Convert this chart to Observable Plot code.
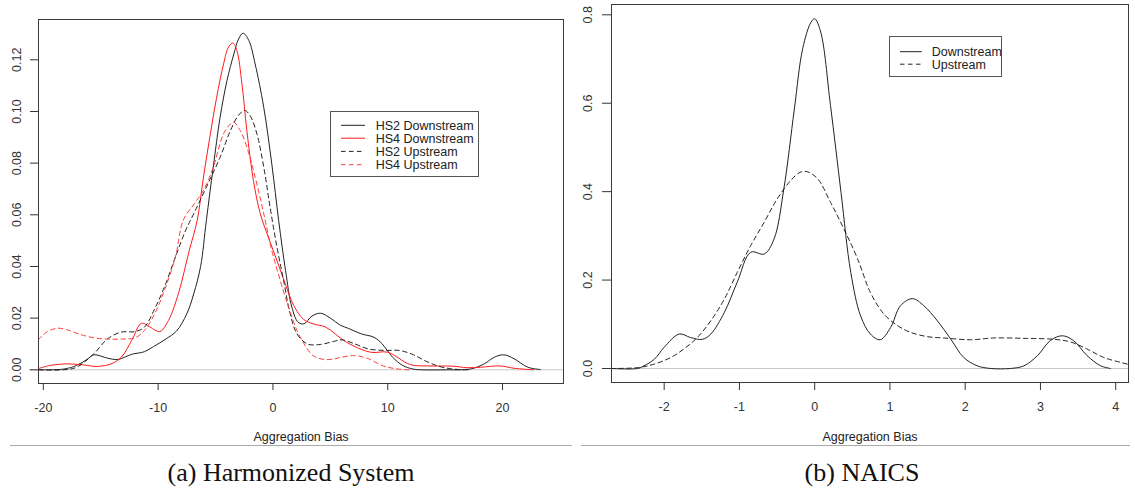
<!DOCTYPE html>
<html>
<head>
<meta charset="utf-8">
<script src="https://cdn.jsdelivr.net/npm/d3@7"></script>
<script src="https://cdn.jsdelivr.net/npm/@observablehq/plot@0.6"></script>
<style>
  html, body { margin: 0; padding: 0; background: #fff; }
  #wrap { position: relative; width: 1135px; height: 492px; overflow: hidden; background: #fff; }
  .panel { position: absolute; top: 0; }
  .legend { position: absolute; border: 1px solid #555; box-sizing: border-box; background: #fff; }
  .legend svg { position: absolute; left: 0; top: 0; overflow: visible; }
  .cap { position: absolute; top: 460px; font-family: "Liberation Serif", serif; font-size: 26px; line-height: 26px; color: #111; text-align: center; white-space: nowrap; }
  .edge { position: absolute; height: 0; border-top: 1px solid #aaa; }
</style>
</head>
<body>
<div id="wrap"></div>
<script>
// ---------- Panel (a): Harmonized System ----------
const hsTicksX = [-20, -10, 0, 10, 20];
const hsTicksY = [0, 0.02, 0.04, 0.06, 0.08, 0.10, 0.12];

const hs2DownX = [-20.4, -18.2, -17.1, -16.2, -15.6, -14.4, -13.5, -12.3, -11.2, -10.4, -9.3, -8.4, -7.5, -6.9, -6.3, -5.8, -5.2, -4.6, -4.0, -3.4, -3.0, -2.6, -2.1, -1.55, -0.8, -0.1, 0.5, 1.1, 1.65, 2.2, 2.7, 3.4, 4.15, 5.0, 5.9, 6.6, 7.7, 8.8, 9.5, 10.4, 11.3, 12.2, 13.0, 15.0, 17.2, 18.4, 19.3, 20.1, 21.0, 22.2, 23.3];
const hs2DownY = [0, 0.0003, 0.0017, 0.0040, 0.0058, 0.0045, 0.0040, 0.0060, 0.0070, 0.0090, 0.0120, 0.0150, 0.0217, 0.0294, 0.0400, 0.0578, 0.0784, 0.0978, 0.1120, 0.1223, 0.1280, 0.1303, 0.1275, 0.1184, 0.1016, 0.0797, 0.0578, 0.0384, 0.0242, 0.0184, 0.0178, 0.0208, 0.0219, 0.0200, 0.0172, 0.0160, 0.0139, 0.0126, 0.0101, 0.0050, 0.0017, 0.0003, 0, 0, 0.0003, 0.0023, 0.0049, 0.0058, 0.0043, 0.0010, 0.0001];

const hs4DownX = [-20.4, -19.4, -18.0, -16.5, -15.3, -14.1, -13.2, -12.3, -11.45, -10.7, -9.85, -9.1, -8.2, -7.3, -6.6, -6.05, -5.5, -4.9, -4.3, -3.87, -3.49, -3.14, -2.7, -2.27, -1.7, -1.1, -0.4, 0.35, 1.07, 1.8, 2.67, 3.5, 4.6, 6.4, 8.5, 10.0, 11.97, 13.5, 15.7, 16.9, 18.1, 19.8, 21.0, 22.7];
const hs4DownY = [0.0005, 0.0017, 0.0023, 0.0019, 0.0013, 0.0023, 0.0049, 0.0114, 0.0180, 0.0165, 0.0148, 0.0191, 0.0300, 0.0460, 0.0578, 0.0746, 0.0900, 0.1055, 0.1184, 0.1249, 0.1265, 0.1236, 0.1107, 0.0926, 0.0733, 0.0604, 0.0513, 0.0423, 0.0333, 0.0250, 0.0195, 0.0178, 0.0165, 0.0107, 0.0068, 0.0068, 0.0020, 0.0015, 0.0014, 0.0008, 0.0010, 0.0015, 0.0006, 0];

const hs2UpX = [-20.4, -18.2, -17.1, -15.6, -14.4, -13.2, -12.0, -11.2, -10.3, -9.4, -8.5, -7.6, -6.9, -5.8, -4.6, -3.7, -3.0, -2.47, -2.0, -1.4, -0.8, -0.25, 0.35, 0.93, 1.5, 2.1, 3.0, 4.1, 5.3, 6.0, 7.1, 8.3, 9.8, 11.0, 12.2, 13.3, 14.5, 15.7, 17.0];
const hs2UpY = [0, 0, 0.0010, 0.0062, 0.0120, 0.0146, 0.0148, 0.0165, 0.0236, 0.0326, 0.0436, 0.0540, 0.0604, 0.0707, 0.0823, 0.0926, 0.0985, 0.1004, 0.0985, 0.0914, 0.0785, 0.0630, 0.0475, 0.0346, 0.0217, 0.0139, 0.0100, 0.0098, 0.0110, 0.0116, 0.0101, 0.0081, 0.0075, 0.0075, 0.0059, 0.0034, 0.0013, 0.0003, 0];

const hs4UpX = [-20.45, -19.7, -18.8, -17.95, -16.8, -15.6, -14.4, -13.2, -12.0, -11.2, -10.3, -9.4, -8.5, -7.8, -6.9, -6.05, -5.2, -4.3, -3.7, -3.43, -2.85, -2.27, -1.55, -0.8, -0.1, 0.64, 1.36, 2.1, 2.8, 3.5, 4.45, 5.3, 6.0, 7.1, 8.3, 9.5, 10.7, 11.9];
const hs4UpY = [0.0116, 0.0146, 0.0161, 0.0155, 0.0137, 0.0124, 0.0119, 0.0119, 0.0124, 0.0152, 0.0217, 0.0314, 0.0436, 0.0580, 0.0640, 0.0694, 0.0784, 0.0914, 0.0952, 0.0959, 0.0926, 0.0862, 0.0746, 0.0604, 0.0462, 0.0346, 0.0242, 0.0152, 0.0094, 0.0055, 0.0040, 0.0042, 0.0049, 0.0055, 0.0043, 0.0017, 0.0004, 0];

const hsNames = ["HS2 Downstream", "HS4 Downstream", "HS2 Upstream", "HS4 Upstream"];
const hsColors = ["#222222", "#ff1a1a", "#222222", "#ff3b3b"];
const hsDashed = [false, false, true, true];

// ---------- Panel (b): NAICS ----------
const naicsTicksX = [-2, -1, 0, 1, 2, 3, 4];
const naicsTicksY = [0, 0.2, 0.4, 0.6, 0.8];

const naicsDownX = [-2.7, -2.35, -2.27, -2.13, -2.0, -1.8, -1.65, -1.49, -1.38, -1.2, -1.03, -0.85, -0.67, -0.54, -0.41, -0.27, -0.16, -0.05, 0, 0.08, 0.21, 0.35, 0.48, 0.61, 0.74, 0.87, 1.01, 1.14, 1.3, 1.45, 1.63, 1.81, 1.98, 2.16, 2.34, 2.6, 2.78, 2.96, 3.13, 3.29, 3.44, 3.62, 3.8, 3.93];
const naicsDownY = [0, 0, 0.006, 0.021, 0.048, 0.078, 0.070, 0.066, 0.078, 0.127, 0.195, 0.263, 0.259, 0.293, 0.406, 0.587, 0.723, 0.783, 0.791, 0.761, 0.595, 0.398, 0.217, 0.119, 0.078, 0.065, 0.093, 0.142, 0.158, 0.142, 0.108, 0.066, 0.025, 0.006, 0, 0, 0.006, 0.029, 0.063, 0.074, 0.063, 0.029, 0.006, 0];

const naicsUpX = [-2.71, -2.35, -2.13, -1.91, -1.74, -1.56, -1.38, -1.2, -1.03, -0.85, -0.67, -0.5, -0.32, -0.19, -0.1, 0.04, 0.21, 0.39, 0.57, 0.74, 0.92, 1.1, 1.27, 1.5, 1.72, 2.07, 2.38, 2.82, 3.18, 3.4, 3.62, 3.84, 4.06, 4.25];
const naicsUpY = [0, 0.002, 0.010, 0.025, 0.044, 0.070, 0.108, 0.157, 0.217, 0.278, 0.331, 0.383, 0.425, 0.444, 0.445, 0.429, 0.376, 0.315, 0.248, 0.172, 0.123, 0.097, 0.082, 0.072, 0.069, 0.065, 0.069, 0.068, 0.066, 0.060, 0.044, 0.025, 0.014, 0.006];

const naicsNames = ["Downstream", "Upstream"];
const naicsColors = ["#222222", "#222222"];
const naicsDashed = [false, true];

const axisTitle = "Aggregation Bias";
const captions = ["(a) Harmonized System", "(b) NAICS"];

// ---------- helpers ----------
function toRows(xs, ys) { return xs.map((x, i) => ({x, y: ys[i]})); }

function panel(cfg) {
  const marks = [
    Plot.ruleY([0], {stroke: "#c8c8c8", strokeWidth: 1, insetLeft: -9}),
  ];
  cfg.series.forEach((s, i) => {
    marks.push(Plot.line(toRows(s[0], s[1]), {
      x: "x", y: "y", curve: "catmull-rom", clip: true,
      stroke: cfg.colors[i], strokeWidth: 1,
      strokeDasharray: cfg.dashed[i] ? "4.5,3.5" : null
    }));
  });
  marks.push(
    Plot.frame({stroke: "#3a3a3a", strokeWidth: 1}),
    Plot.axisX(cfg.xTicks, {tickSize: cfg.xTickSize, tickPadding: cfg.xTickPad, color: "#333", fontSize: 12.5, label: null, tickFormat: d => String(d)}),
    Plot.axisY(cfg.yTicks, {tickSize: cfg.yTickSize, color: "#333", tickFormat: () => "", label: null}),
    Plot.text(cfg.yTicks, {y: d => d, text: cfg.yFmt, frameAnchor: "left", textAnchor: "middle", lineAnchor: "middle", dx: cfg.yLabelDx, rotate: -90, fontSize: 12.5, fill: "#333"}),
    Plot.text([axisTitle], {text: d => d, frameAnchor: "bottom", textAnchor: "middle", dy: cfg.titleDy, fontSize: 12.5, fill: "#222"})
  );
  return Plot.plot({
    width: cfg.width, height: cfg.height,
    marginLeft: cfg.ml, marginRight: cfg.mr, marginTop: cfg.mt, marginBottom: cfg.mb,
    x: {domain: cfg.xDomain, label: null},
    y: {domain: cfg.yDomain, label: null},
    style: {fontFamily: "'Liberation Sans', Arial, sans-serif", fontSize: "12.5px", background: "transparent", overflow: "visible"},
    marks
  });
}

function legend(left, top, w, h, names, colors, dashed, rowY, sampleX0, sampleX1, textX) {
  const div = document.createElement("div");
  div.className = "legend";
  Object.assign(div.style, {left: left + "px", top: top + "px", width: w + "px", height: h + "px"});
  const ns = "http://www.w3.org/2000/svg";
  const svg = document.createElementNS(ns, "svg");
  svg.setAttribute("width", w); svg.setAttribute("height", h);
  names.forEach((n, i) => {
    const y = rowY[i] - top - 1;
    const ln = document.createElementNS(ns, "line");
    ln.setAttribute("x1", sampleX0 - left - 1); ln.setAttribute("x2", sampleX1 - left - 1);
    ln.setAttribute("y1", y); ln.setAttribute("y2", y);
    ln.setAttribute("stroke", colors[i]); ln.setAttribute("stroke-width", 1);
    if (dashed[i]) ln.setAttribute("stroke-dasharray", "4.5,3.5");
    svg.appendChild(ln);
    const t = document.createElementNS(ns, "text");
    t.setAttribute("x", textX - left - 1); t.setAttribute("y", y);
    t.setAttribute("dy", "0.35em");
    t.setAttribute("font-family", "'Liberation Sans', Arial, sans-serif");
    t.setAttribute("font-size", "12.5px");
    t.setAttribute("fill", "#222");
    t.textContent = n;
    svg.appendChild(t);
  });
  div.appendChild(svg);
  return div;
}

const wrap = document.getElementById("wrap");

const left = panel({
  series: [[hs2DownX, hs2DownY], [hs4DownX, hs4DownY], [hs2UpX, hs2UpY], [hs4UpX, hs4UpY]],
  colors: hsColors, dashed: hsDashed,
  width: 575, height: 460, ml: 38, mr: 12, mt: 19, mb: 77,
  xDomain: [-20.42, 25.31], yDomain: [-0.0053, 0.1356],
  xTicks: hsTicksX, yTicks: hsTicksY, yFmt: d3.format(".2f"),
  xTickSize: 7, xTickPad: 13, yTickSize: 8, yLabelDx: -21.5, titleDy: 57
});
left.classList.add("panel"); left.style.left = "0px";
wrap.appendChild(left);

const right = panel({
  series: [[naicsDownX, naicsDownY], [naicsUpX, naicsUpY]],
  colors: naicsColors, dashed: naicsDashed,
  width: 560, height: 460, ml: 36, mr: 7, mt: 4, mb: 78,
  xDomain: [-2.70, 4.17], yDomain: [-0.0317, 0.8233],
  xTicks: naicsTicksX, yTicks: naicsTicksY, yFmt: d3.format(".1f"),
  xTickSize: 8, xTickPad: 12, yTickSize: 9, yLabelDx: -24, titleDy: 58
});
right.classList.add("panel"); right.style.left = "575px";
wrap.appendChild(right);

wrap.appendChild(legend(330, 111, 149, 66, hsNames, hsColors, hsDashed, [125.3, 138.2, 151.4, 164.7], 341, 365, 375.7));
wrap.appendChild(legend(889, 36, 113, 41, naicsNames, naicsColors, naicsDashed, [51.7, 64.2], 900, 921.7, 931.7));

// faint page edge lines under the axis titles
[[10, 572], [581, 1130]].forEach(([a, b]) => {
  const e = document.createElement("div");
  e.className = "edge";
  Object.assign(e.style, {left: a + "px", width: (b - a) + "px", top: "445px"});
  wrap.appendChild(e);
});

// captions
[[captions[0], 291], [captions[1], 862]].forEach(([t, cx]) => {
  const c = document.createElement("div");
  c.className = "cap";
  c.textContent = t;
  Object.assign(c.style, {left: (cx - 200) + "px", width: "400px"});
  wrap.appendChild(c);
});
</script>
</body>
</html>
